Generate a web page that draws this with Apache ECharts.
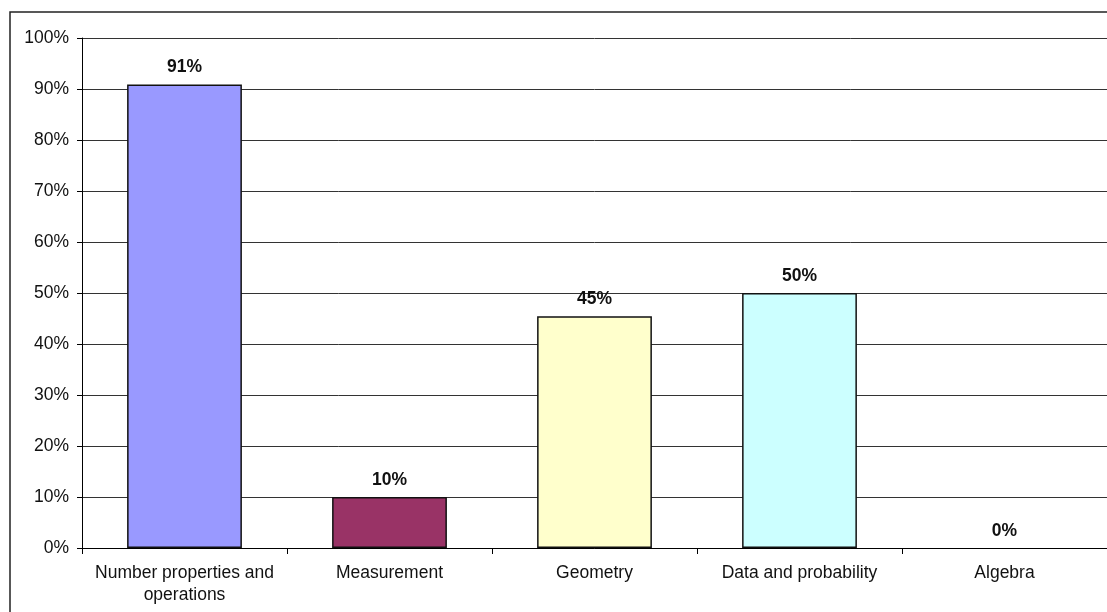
<!DOCTYPE html>
<html>
<head>
<meta charset="utf-8">
<script src="https://cdn.jsdelivr.net/npm/echarts@6/dist/echarts.min.js"></script>
<style>
  html, body { margin: 0; padding: 0; background: #fff; }
  #chart { width: 1107px; height: 612px; }
</style>
</head>
<body>
<div id="chart"></div>
<script>
// Share of items answered correctly, by content strand
const categories = ['Number properties and\noperations', 'Measurement', 'Geometry', 'Data and probability', 'Algebra'];
const percentCorrect = [90.9, 10, 45.45, 50, 0];
const barColors = ['#9999FF', '#993366', '#FFFFCC', '#CCFFFF', '#FFFFFF'];
const yTicks = [0, 10, 20, 30, 40, 50, 60, 70, 80, 90, 100];

const chart = echarts.init(document.getElementById('chart'), null, { renderer: 'canvas' });
const font = 'Arial, "Liberation Sans", sans-serif';

chart.setOption({
  animation: false,
  backgroundColor: '#fff',
  graphic: [{
    type: 'rect',
    shape: { x: 10, y: 12, width: 1200, height: 700 },
    style: { fill: 'none', stroke: '#222', lineWidth: 1.5 },
    silent: true,
    z: -10
  }],
  grid: { left: 82, top: 38, width: 1028, bottom: 64, containLabel: false },
  xAxis: {
    type: 'category',
    data: categories,
    axisLine: { show: true, lineStyle: { color: '#000', width: 1 } },
    axisTick: { show: true, alignWithLabel: false, length: 6, lineStyle: { color: '#000' } },
    axisLabel: { color: '#111', fontFamily: font, fontSize: 17.5, margin: 14, lineHeight: 22, interval: 0 },
    splitLine: { show: false }
  },
  yAxis: {
    type: 'value',
    min: yTicks[0],
    max: yTicks[yTicks.length - 1],
    interval: 10,
    axisLine: { show: true, lineStyle: { color: '#000', width: 1 } },
    axisTick: { show: true, length: 5, lineStyle: { color: '#000' } },
    axisLabel: { color: '#111', fontFamily: font, fontSize: 17.5, margin: 13, formatter: v => v + '%' },
    splitLine: { show: true, lineStyle: { color: '#333', width: 1 } }
  },
  series: [{
    type: 'bar',
    data: percentCorrect.map((v, i) => ({
      value: v,
      itemStyle: { color: barColors[i], borderColor: '#111', borderWidth: v > 0 ? 1.5 : 0 }
    })),
    barCategoryGap: '44%',
    label: {
      show: true,
      position: 'top',
      distance: 8,
      color: '#111',
      fontFamily: font,
      fontSize: 17.5,
      fontWeight: 'bold',
      formatter: p => Math.round(p.value) + '%'
    }
  }]
});
</script>
</body>
</html>
